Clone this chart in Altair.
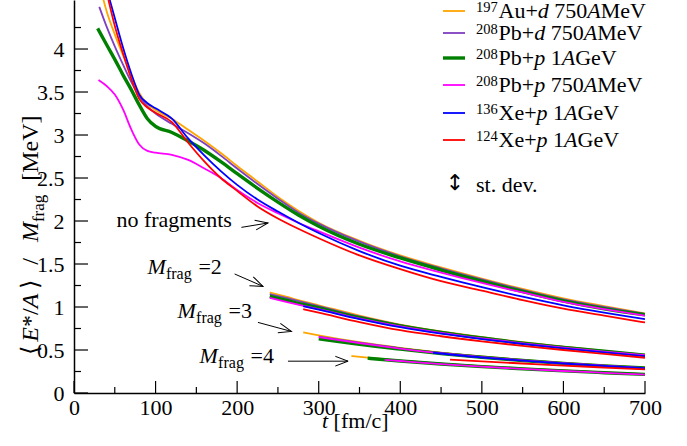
import math
import altair as alt
import pandas as pd

FONT = "Liberation Serif"
LEFT, TOP = 74, 0
PLOT_W, PLOT_H = 571, 393
T_MAX, V_MAX = 700, 4.57

REACTIONS = ["197Au+d 750AMeV", "208Pb+d 750AMeV", "208Pb+p 1AGeV",
             "208Pb+p 750AMeV", "136Xe+p 1AGeV", "124Xe+p 1AGeV"]
COLORS = ["#ffa500", "#7f3fbf", "#008000", "#ff00ff", "#0000ff", "#ff0000"]
LINE_WIDTHS = [1.8, 1.8, 3.4, 1.8, 1.8, 1.8]

# legend text pieces
MASS = ["197", "208", "208", "208", "136", "124"]
ELEM = ["Au+", "Pb+", "Pb+", "Pb+", "Xe+", "Xe+"]
PROJ = ["d", "d", "p", "p", "p", "p"]
ENERGY = [" 750", " 750", " 1", " 750", " 1", " 1"]
UNIT = ["MeV", "MeV", "GeV", "MeV", "GeV", "GeV"]

# ---------------- no fragments (M_frag = 1) ----------------
AU_M1_T = [30, 40, 50, 60, 70, 80, 90, 100, 120, 140, 160, 180, 200, 225, 250, 275, 300, 350, 400, 450, 500, 550, 600, 650, 700]
AU_M1_V = [4.80, 4.44, 4.17, 3.93, 3.70, 3.49, 3.36, 3.29, 3.19, 3.06, 2.93, 2.79, 2.64, 2.46, 2.28, 2.12, 1.98, 1.77, 1.60, 1.46, 1.33, 1.21, 1.10, 1.01, 0.925]
PBD_M1_T = [31, 40, 50, 60, 70, 80, 90, 100, 120, 140, 160, 180, 200, 225, 250, 275, 300, 350, 400, 450, 500, 550, 600, 650, 700]
PBD_M1_V = [4.49, 4.26, 4.03, 3.82, 3.62, 3.45, 3.33, 3.25, 3.13, 3.02, 2.90, 2.76, 2.61, 2.43, 2.26, 2.10, 1.97, 1.76, 1.59, 1.45, 1.32, 1.20, 1.09, 1.00, 0.92]
PBP1_M1_T = [29, 40, 50, 60, 70, 80, 90, 100, 120, 140, 160, 180, 200, 225, 250, 275, 300, 350, 400, 450, 500, 550, 600, 650, 700]
PBP1_M1_V = [4.24, 4.05, 3.88, 3.70, 3.53, 3.35, 3.19, 3.10, 3.03, 2.93, 2.82, 2.69, 2.55, 2.38, 2.22, 2.07, 1.94, 1.73, 1.57, 1.43, 1.30, 1.18, 1.07, 0.98, 0.91]
PBP750_M1_T = [30, 40, 50, 60, 70, 80, 90, 100, 120, 140, 160, 180, 200, 225, 250, 275, 300, 350, 400, 450, 500, 550, 600, 650, 700]
PBP750_M1_V = [3.64, 3.57, 3.47, 3.30, 3.07, 2.89, 2.815, 2.795, 2.77, 2.71, 2.61, 2.50, 2.36, 2.21, 2.09, 1.98, 1.88, 1.69, 1.53, 1.40, 1.28, 1.17, 1.06, 0.975, 0.90]
XE136_M1_T = [43, 50, 60, 70, 80, 90, 100, 120, 140, 160, 180, 200, 225, 250, 275, 300, 350, 400, 450, 500, 550, 600, 650, 700]
XE136_M1_V = [4.60, 4.36, 4.02, 3.72, 3.47, 3.37, 3.31, 3.19, 2.96, 2.76, 2.58, 2.42, 2.25, 2.11, 1.98, 1.86, 1.65, 1.48, 1.35, 1.23, 1.12, 1.02, 0.935, 0.86]
XE124_M1_T = [41, 50, 60, 70, 80, 90, 100, 120, 140, 160, 180, 200, 225, 250, 275, 300, 350, 400, 450, 500, 550, 600, 650, 700]
XE124_M1_V = [4.62, 4.27, 3.95, 3.66, 3.42, 3.32, 3.26, 3.15, 2.91, 2.69, 2.50, 2.35, 2.17, 2.03, 1.91, 1.80, 1.60, 1.44, 1.30, 1.19, 1.08, 0.98, 0.90, 0.82]

# ---------------- M_frag = 2 ----------------
AU_M2_T = [240, 260, 281, 300, 350, 400, 450, 500, 550, 600, 650, 700]
AU_M2_V = [1.17, 1.12, 1.065, 1.02, 0.90, 0.795, 0.715, 0.65, 0.59, 0.54, 0.49, 0.445]
PBD_M2_T = [240, 260, 300, 350, 400, 450, 500, 550, 600, 650, 700]
PBD_M2_V = [1.15, 1.105, 1.01, 0.89, 0.79, 0.71, 0.645, 0.585, 0.535, 0.487, 0.443]
PBP1_M2_T = [240, 260, 281, 300, 350, 400, 450, 500, 550, 600, 650, 700]
PBP1_M2_V = [1.125, 1.08, 1.03, 0.99, 0.875, 0.78, 0.705, 0.64, 0.58, 0.53, 0.485, 0.44]
PBP750_M2_T = [240, 260, 300, 350, 400, 450, 500, 550, 600, 650, 700]
PBP750_M2_V = [1.105, 1.06, 0.975, 0.865, 0.775, 0.70, 0.635, 0.578, 0.528, 0.482, 0.44]
XE136_M2_T = [281, 300, 350, 400, 450, 500, 550, 600, 650, 700]
XE136_M2_V = [1.01, 0.97, 0.86, 0.765, 0.69, 0.627, 0.57, 0.52, 0.472, 0.428]
XE124_M2_T = [281, 300, 350, 400, 450, 500, 550, 600, 650, 700]
XE124_M2_V = [0.975, 0.935, 0.825, 0.73, 0.66, 0.60, 0.548, 0.50, 0.455, 0.41]

# ---------------- M_frag = 3 ----------------
AU_M3_T = [281, 300, 350, 400, 450, 500, 550, 600, 650, 700]
AU_M3_V = [0.705, 0.67, 0.59, 0.525, 0.47, 0.425, 0.385, 0.35, 0.32, 0.295]
PBD_M3_T = [300, 350, 400, 450, 500, 550, 600, 650, 700]
PBD_M3_V = [0.655, 0.585, 0.52, 0.465, 0.42, 0.382, 0.348, 0.318, 0.292]
PBP1_M3_T = [300, 350, 400, 450, 500, 550, 600, 650, 700]
PBP1_M3_V = [0.63, 0.565, 0.51, 0.458, 0.415, 0.378, 0.345, 0.316, 0.29]
PBP750_M3_T = [300, 350, 400, 450, 500, 550, 600, 650, 700]
PBP750_M3_V = [0.65, 0.58, 0.517, 0.462, 0.418, 0.38, 0.346, 0.317, 0.29]
XE136_M3_T = [440, 500, 550, 600, 650, 700]
XE136_M3_V = [0.468, 0.413, 0.376, 0.343, 0.314, 0.288]
XE124_M3_T = [461, 500, 550, 600, 650, 700]
XE124_M3_V = [0.388, 0.368, 0.343, 0.318, 0.296, 0.275]

# ---------------- M_frag = 4 ----------------
AU_M4_T = [340, 360, 400, 450, 500, 550, 600, 650, 700]
AU_M4_V = [0.43, 0.412, 0.377, 0.342, 0.312, 0.286, 0.262, 0.24, 0.22]
PBD_M4_T = [381, 400, 450, 500, 550, 600, 650, 700]
PBD_M4_V = [0.39, 0.375, 0.34, 0.31, 0.283, 0.259, 0.238, 0.218]
PBP1_M4_T = [360, 400, 450, 500, 550, 600, 650, 700]
PBP1_M4_V = [0.405, 0.372, 0.337, 0.307, 0.281, 0.257, 0.236, 0.216]
PBP750_M4_T = [381, 400, 450, 500, 550, 600, 650, 700]
PBP750_M4_V = [0.386, 0.372, 0.336, 0.306, 0.28, 0.256, 0.235, 0.214]

SERIES = [
    [(1, AU_M1_T, AU_M1_V), (2, AU_M2_T, AU_M2_V), (3, AU_M3_T, AU_M3_V), (4, AU_M4_T, AU_M4_V)],
    [(1, PBD_M1_T, PBD_M1_V), (2, PBD_M2_T, PBD_M2_V), (3, PBD_M3_T, PBD_M3_V), (4, PBD_M4_T, PBD_M4_V)],
    [(1, PBP1_M1_T, PBP1_M1_V), (2, PBP1_M2_T, PBP1_M2_V), (3, PBP1_M3_T, PBP1_M3_V), (4, PBP1_M4_T, PBP1_M4_V)],
    [(1, PBP750_M1_T, PBP750_M1_V), (2, PBP750_M2_T, PBP750_M2_V), (3, PBP750_M3_T, PBP750_M3_V), (4, PBP750_M4_T, PBP750_M4_V)],
    [(1, XE136_M1_T, XE136_M1_V), (2, XE136_M2_T, XE136_M2_V), (3, XE136_M3_T, XE136_M3_V)],
    [(1, XE124_M1_T, XE124_M1_V), (2, XE124_M2_T, XE124_M2_V), (3, XE124_M3_T, XE124_M3_V)],
]

# axis ticks
X_LABELS = [0, 100, 200, 300, 400, 500, 600, 700]
X_MINOR = [50, 150, 250, 350, 450, 550, 650]
Y_LABELS = [0, 0.5, 1, 1.5, 2, 2.5, 3, 3.5, 4]
Y_MINOR = [0.25, 0.75, 1.25, 1.75, 2.25, 2.75, 3.25, 3.75, 4.25]

# annotations
LABEL_T = [52, 90, 127, 154]
LABEL_V = [1.934, 1.387, 0.876, 0.353]
LABEL_TEXT = ["no fragments", "=2", "=3", "=4"]
ARROW_T1 = [205.2, 196.9, 225.5, 262.3]
ARROW_V1 = [1.926, 1.384, 0.821, 0.37]
ARROW_T2 = [237.8, 231.7, 266.5, 336.0]
ARROW_V2 = [1.977, 1.240, 0.716, 0.37]

# ---------------- helpers ----------------
ADV = {' ': .25, '0': .5, '1': .5, '2': .5, '3': .5, '4': .5, '5': .5, '6': .5, '7': .5, '8': .5,
       '9': .5, 'A': .722, 'u': .5, '+': .564, 'P': .556, 'b': .5, 'X': .722, 'e': .444, 'M': .889,
       'V': .722, 'G': .722, 'd': .5, 'p': .5, '[': .333, ']': .333, 'f': .333, 'm': .778, '/': .278,
       'c': .444, 'r': .333, 'a': .444, 'g': .5, 'E': .611, '*': .5, 't': .278, 's': .389, '.': .25,
       'v': .5, 'n': .5, 'o': .5, '=': .564, '⟨': .33, '⟩': .33}
ITAL = {'A': .611, 'd': .5, 'p': .5, 'E': .611, 'M': .833, 't': .278}


def width(text, size, italic):
    tab = dict(ADV)
    if italic:
        tab.update(ITAL)
    return sum(tab.get(c, .5) for c in text) * size


ONE = pd.DataFrame({"k": [0]})


def text_chain(pieces, x0, y0, angle=0):
    """pieces: (text, size, italic, baseline shift, extra gap before); x0,y0 in page pixels"""
    out = []
    pos = 0.0
    for text, size, italic, shift, gap in pieces:
        pos += gap
        lead = len(text) - len(text.lstrip(" "))
        pos += lead * 0.25 * size
        body = text.strip(" ")
        if angle == 0:
            x, y = x0 + pos, y0 + shift
        else:
            x, y = x0 + shift, y0 - pos
        mk = dict(text=body, font=FONT, fontSize=size, align="left",
                  baseline="alphabetic", color="black")
        if italic:
            mk["fontStyle"] = "italic"
        if angle:
            mk["angle"] = angle
        out.append(alt.Chart(ONE).mark_text(**mk).encode(x=alt.value(x - LEFT), y=alt.value(y - TOP)))
        pos += width(body, size, italic)
    return out, pos


x_scale = alt.Scale(domain=[0, T_MAX], nice=False, zero=False)
y_scale = alt.Scale(domain=[0, V_MAX], nice=False, zero=False)
x_axis = alt.Axis(values=X_LABELS, title=None, ticks=False, tickSize=0, grid=False, labelFont=FONT,
                  labelFontSize=22, labelColor="black", labelPadding=4, domainColor="black",
                  domainWidth=1.5, labelFlush=False, labelOverlap=False)
y_axis = alt.Axis(values=Y_LABELS, title=None, ticks=False, tickSize=0, grid=False, labelFont=FONT,
                  labelFontSize=22, labelColor="black", labelPadding=10, domainColor="black",
                  domainWidth=1.5, format="~g", labelFlush=False, labelOverlap=False)

layers = []

# curves
for i, series in enumerate(SERIES):
    rows = []
    for m, ts, vs in series:
        for t, v in zip(ts, vs):
            rows.append({"t": t, "v": v, "mult": m})
    df = pd.DataFrame(rows)
    layers.append(
        alt.Chart(df).mark_line(clip=True, interpolate="monotone", color=COLORS[i],
                                strokeWidth=LINE_WIDTHS[i])
        .encode(x=alt.X("t:Q", scale=x_scale, axis=x_axis),
                y=alt.Y("v:Q", scale=y_scale, axis=y_axis),
                detail="mult:N")
    )

# inward ticks
for vals, ln in ((X_LABELS, 12), (X_MINOR, 6)):
    layers.append(alt.Chart(pd.DataFrame({"t": vals})).mark_rule(color="black", strokeWidth=1.2)
                  .encode(x=alt.X("t:Q", scale=x_scale, axis=x_axis),
                          y=alt.value(PLOT_H), y2=alt.value(PLOT_H - ln)))
for vals, ln in ((Y_LABELS, 14), (Y_MINOR, 7)):
    layers.append(alt.Chart(pd.DataFrame({"v": vals})).mark_rule(color="black", strokeWidth=1.2)
                  .encode(y=alt.Y("v:Q", scale=y_scale, axis=y_axis),
                          x=alt.value(0), x2=alt.value(ln)))

# annotation arrows
sx = PLOT_W / T_MAX
sy = PLOT_H / V_MAX
angles = [math.degrees(math.atan2(-(v2 - v1) * sy, (t2 - t1) * sx)) % 360
          for t1, v1, t2, v2 in zip(ARROW_T1, ARROW_V1, ARROW_T2, ARROW_V2)]
arrows = pd.DataFrame({"t1": ARROW_T1, "v1": ARROW_V1, "t2": ARROW_T2, "v2": ARROW_V2, "ang": angles})
layers.append(alt.Chart(arrows).mark_rule(color="black", strokeWidth=1)
              .encode(x=alt.X("t1:Q", scale=x_scale, axis=x_axis), x2="t2:Q",
                      y=alt.Y("v1:Q", scale=y_scale, axis=y_axis), y2="v2:Q"))
layers.append(alt.Chart(arrows).mark_point(shape="M-1,-0.38L0,0L-1,0.38", filled=False, color="black",
                                           strokeWidth=1, size=650, opacity=1)
              .encode(x=alt.X("t2:Q", scale=x_scale, axis=x_axis),
                      y=alt.Y("v2:Q", scale=y_scale, axis=y_axis),
                      angle=alt.Angle("ang:Q", scale=None)))

# annotation labels
lab = pd.DataFrame({"t": LABEL_T, "v": LABEL_V, "txt": LABEL_TEXT})
lab_nf = lab.iloc[:1]
lab_m = lab.iloc[1:]
enc = dict(x=alt.X("t:Q", scale=x_scale, axis=x_axis), y=alt.Y("v:Q", scale=y_scale, axis=y_axis))
layers.append(alt.Chart(lab_nf).mark_text(font=FONT, fontSize=22, align="left", baseline="alphabetic",
                                          color="black").encode(text="txt:N", **enc))
layers.append(alt.Chart(lab_m).mark_text(text="M", font=FONT, fontSize=22, fontStyle="italic",
                                         align="left", baseline="alphabetic", color="black").encode(**enc))
layers.append(alt.Chart(lab_m).mark_text(text="frag", font=FONT, fontSize=16, align="left",
                                         baseline="alphabetic", color="black", dx=18.5, dy=5).encode(**enc))
layers.append(alt.Chart(lab_m).mark_text(font=FONT, fontSize=22, align="left", baseline="alphabetic",
                                         color="black", dx=51).encode(text="txt:N", **enc))

# legend
LEG_BASE = [18, 40, 65, 92, 120, 147]
for i in range(6):
    yb = LEG_BASE[i]
    layers.append(alt.Chart(ONE).mark_rule(color=COLORS[i], strokeWidth=LINE_WIDTHS[i])
                  .encode(x=alt.value(443 - LEFT), x2=alt.value(465 - LEFT), y=alt.value(yb - 7 - TOP)))
    chain, _ = text_chain([(MASS[i], 14.5, False, -6.5, 0), (ELEM[i], 22, False, 0, 0.8),
                           (PROJ[i], 22, True, 0, 0), (ENERGY[i], 22, False, 0, 0),
                           ("A", 22, True, 0, 0), (UNIT[i], 22, False, 0, 0)], 476, yb)
    layers += chain
layers.append(alt.Chart(ONE).mark_text(text="↕", font="DejaVu Sans", fontSize=22, align="center",
                                       baseline="middle", color="black")
              .encode(x=alt.value(455 - LEFT), y=alt.value(183 - TOP)))
chain, _ = text_chain([("st. dev.", 22, False, 0, 0)], 476, 192)
layers += chain

# axis titles
chain, _ = text_chain([("t", 22, True, 0, 0), (" [fm/c]", 22, False, 0, 0)], 322, 428)
layers += chain
ytitle = [("⟨", 24, False, 0, 0), ("E", 24, True, 0, 5), ("*", 24, False, 0, 0), ("/", 24, False, 0, 0),
          ("A", 24, True, 0, 0), ("⟩", 24, False, 0, 5), ("/", 24, False, 0, 16), ("M", 24, True, 0, 16),
          ("frag", 17, False, 6, 0), ("[MeV]", 24, False, 0, 14)]
_, tot = text_chain(ytitle, 0, 0, angle=270)
chain, _ = text_chain(ytitle, 38, 235 + tot / 2, angle=270)
layers += chain

chart = alt.layer(*layers).properties(
    width=PLOT_W, height=PLOT_H,
    padding={"left": LEFT, "top": TOP, "right": 687 - LEFT - PLOT_W, "bottom": 446 - TOP - PLOT_H},
    autosize=alt.AutoSizeParams(type="none"),
    background="white",
).configure(font=FONT).configure_view(stroke=None)

chart.save("out.html", embed_options={"renderer": "svg", "actions": False})
